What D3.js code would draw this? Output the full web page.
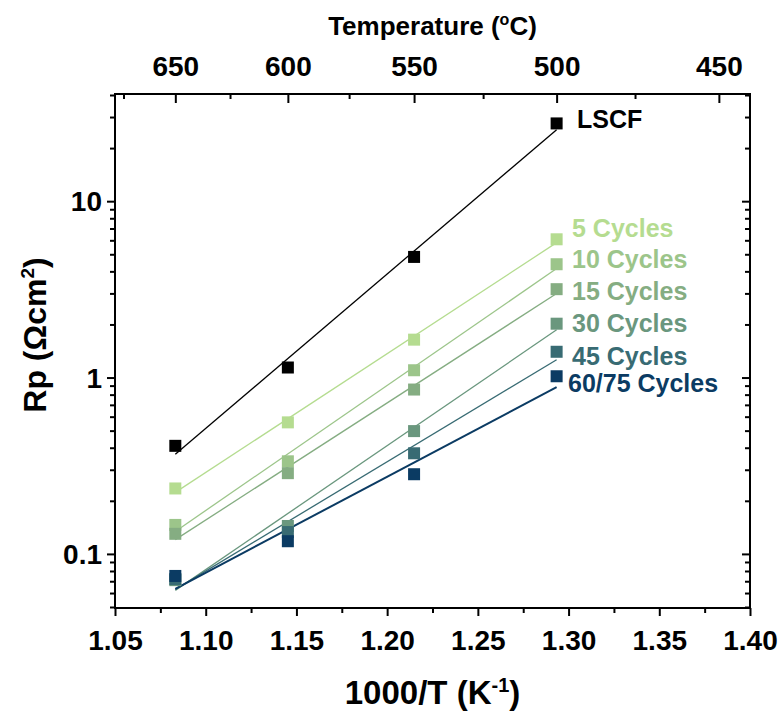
<!DOCTYPE html>
<html>
<head>
<meta charset="utf-8">
<script src="https://cdn.jsdelivr.net/npm/d3@7"></script>
<style>
  body { margin: 0; background: #fff; }
  text { font-family: "Liberation Sans", Arial, sans-serif; font-weight: bold; }
</style>
</head>
<body>
<div id="chart"></div>
<script>
// measurement temperatures (°C) -> plotted as 1000/T
const temps = [650, 600, 550, 500];

const seriesNames = ["LSCF", "5 Cycles", "10 Cycles", "15 Cycles", "30 Cycles", "45 Cycles", "60/75 Cycles"];
const seriesColors = ["#000000", "#b5dc90", "#9cc58a", "#85ad82", "#6a977e", "#386b73", "#0b3b63"];

// Rp values (ohm cm2), one per temperature
const rpLSCF = [0.41, 1.14, 4.83, 27.6];
const rp5 = [0.235, 0.557, 1.64, 6.08];
const rp10 = [0.146, 0.335, 1.10, 4.39];
const rp15 = [0.13, 0.287, 0.855, 3.17];
const rp30 = [0.071, 0.144, 0.497, 2.02];
const rp45 = [0.072, 0.133, 0.372, 1.40];
const rp6075 = [0.075, 0.118, 0.283, 1.017];

const xTicks = [1.05, 1.10, 1.15, 1.20, 1.25, 1.30, 1.35, 1.40];
const yTicks = [0.1, 1, 10];
const topTicks = [650, 600, 550, 500, 450];
const topMinor = [675, 625, 575, 525, 475];

const allRp = [rpLSCF, rp5, rp10, rp15, rp30, rp45, rp6075];

// note: "top" is taken by window.top, so use m* names
var width = 783,
    height = 715,
    mLeft = 115, mRight = 750, mTop = 94, mBottom = 608;

const svg = d3.select("#chart").append("svg")
  .attr("width", width)
  .attr("height", height);

const x = d3.scaleLinear().domain([1.05, 1.40]).range([mLeft, mRight]);
const y = d3.scaleLog().domain([0.05, 40]).range([mBottom - 1, mTop + 1]);
const invT = t => 1000 / (t + 273.15);

// minor log ticks
const yMinor = [];
[0.01, 0.1, 1, 10].forEach(dec => {
  for (let k = 2; k <= 9; k++) {
    const v = dec * k;
    if (v >= 0.05 && v <= 40) yMinor.push(v);
  }
});
const xMinor = xTicks.slice(0, -1).map(v => v + 0.025);

// axes
const axisBottom = svg.append("g").attr("transform", "translate(0," + mBottom + ")")
  .call(d3.axisBottom(x).tickValues(xTicks).tickFormat(d3.format(".2f")).tickSize(8).tickSizeOuter(0));
svg.append("g").attr("transform", "translate(0," + mBottom + ")")
  .call(d3.axisBottom(x).tickValues(xMinor).tickFormat("").tickSize(5).tickSizeOuter(0));

const axisLeft = svg.append("g").attr("transform", "translate(" + mLeft + ",0)")
  .call(d3.axisLeft(y).tickValues(yTicks).tickFormat(d => d < 1 ? d3.format(".1f")(d) : d3.format("d")(d)).tickSize(8).tickSizeOuter(0));
svg.append("g").attr("transform", "translate(" + mLeft + ",0)")
  .call(d3.axisLeft(y).tickValues(yMinor).tickFormat("").tickSize(5).tickSizeOuter(0));

svg.append("g").attr("transform", "translate(" + mRight + ",0)")
  .call(d3.axisLeft(y).tickValues(yTicks).tickFormat("").tickSize(8).tickSizeOuter(0));
svg.append("g").attr("transform", "translate(" + mRight + ",0)")
  .call(d3.axisLeft(y).tickValues(yMinor).tickFormat("").tickSize(5).tickSizeOuter(0));

// top temperature axis, ticks inward
const axisTop = svg.append("g").attr("transform", "translate(0," + mTop + ")")
  .call(d3.axisTop(x).tickValues(topTicks.map(invT)).tickFormat((d, i) => topTicks[i]).tickSize(-9).tickSizeOuter(0));
svg.append("g").attr("transform", "translate(0," + mTop + ")")
  .call(d3.axisTop(x).tickValues(topMinor.map(invT)).tickFormat("").tickSize(-5).tickSizeOuter(0));

svg.selectAll(".domain").remove();
svg.selectAll(".tick line").attr("stroke", "#000").attr("stroke-width", 2);
svg.selectAll(".tick text").attr("fill", "#000").style("font-size", "28px");
axisBottom.selectAll(".tick text").attr("dy", "1.1em");
axisTop.selectAll(".tick text").attr("y", -18);
axisLeft.selectAll(".tick text").attr("x", -13).attr("dy", "0.35em");

svg.append("rect")
  .attr("x", mLeft).attr("y", mTop)
  .attr("width", mRight - mLeft).attr("height", mBottom - mTop)
  .attr("fill", "none").attr("stroke", "#000").attr("stroke-width", 2);

// linear fit of log10(Rp) vs 1000/T
const xs = temps.map(invT);
function fit(vals) {
  const ly = vals.map(v => Math.log10(v));
  const mx = d3.mean(xs), my = d3.mean(ly);
  const sxy = d3.sum(xs, (v, i) => (v - mx) * (ly[i] - my));
  const sxx = d3.sum(xs, v => (v - mx) * (v - mx));
  const b = sxy / sxx;
  return [xs[0], xs[xs.length - 1]].map(v => [v, Math.pow(10, my + b * (v - mx))]);
}

const line = d3.line().x(d => x(d[0])).y(d => y(d[1]));

allRp.forEach((vals, i) => {
  svg.append("path")
    .attr("d", line(fit(vals)))
    .attr("fill", "none")
    .attr("stroke", seriesColors[i])
    .attr("stroke-width", i === 6 ? 2 : 1.3);
});

const size = 12;
allRp.forEach((vals, i) => {
  svg.append("g").selectAll("rect").data(vals).enter()
    .append("rect")
    .attr("x", (d, j) => x(xs[j]) - size / 2)
    .attr("y", d => y(d) - size / 2)
    .attr("width", size).attr("height", size)
    .attr("fill", seriesColors[i]);
});

// series labels on the right
const labelX = [577, 572, 572, 572, 572, 572, 568];
const labelY = [119, 228, 259, 291, 323, 356, 383];
svg.selectAll(".lab").data(seriesNames).enter()
  .append("text")
  .attr("class", "lab")
  .attr("x", (d, i) => labelX[i])
  .attr("y", (d, i) => labelY[i])
  .attr("dy", "0.35em")
  .attr("fill", (d, i) => seriesColors[i])
  .style("font-size", "25px")
  .text(d => d);

// axis titles
const tTop = svg.append("text")
  .attr("x", (mLeft + mRight) / 2).attr("y", 35)
  .attr("text-anchor", "middle")
  .style("font-size", "26px");
tTop.append("tspan").text("Temperature (");
tTop.append("tspan").attr("dy", -10).style("font-size", "16px").text("o");
tTop.append("tspan").attr("dy", 10).text("C)");

const tBot = svg.append("text")
  .attr("x", (mLeft + mRight) / 2).attr("y", 704)
  .attr("text-anchor", "middle")
  .style("font-size", "33px");
tBot.append("tspan").text("1000/T (K");
tBot.append("tspan").attr("dy", -12).style("font-size", "20px").text("-1");
tBot.append("tspan").attr("dy", 12).text(")");

const tLeft = svg.append("text")
  .attr("transform", "translate(46," + 335 + ") rotate(-90)")
  .attr("text-anchor", "middle")
  .style("font-size", "32px");
tLeft.append("tspan").text("Rp (Ωcm");
tLeft.append("tspan").attr("dy", -12).style("font-size", "19px").text("2");
tLeft.append("tspan").attr("dy", 12).text(")");
</script>
</body>
</html>
